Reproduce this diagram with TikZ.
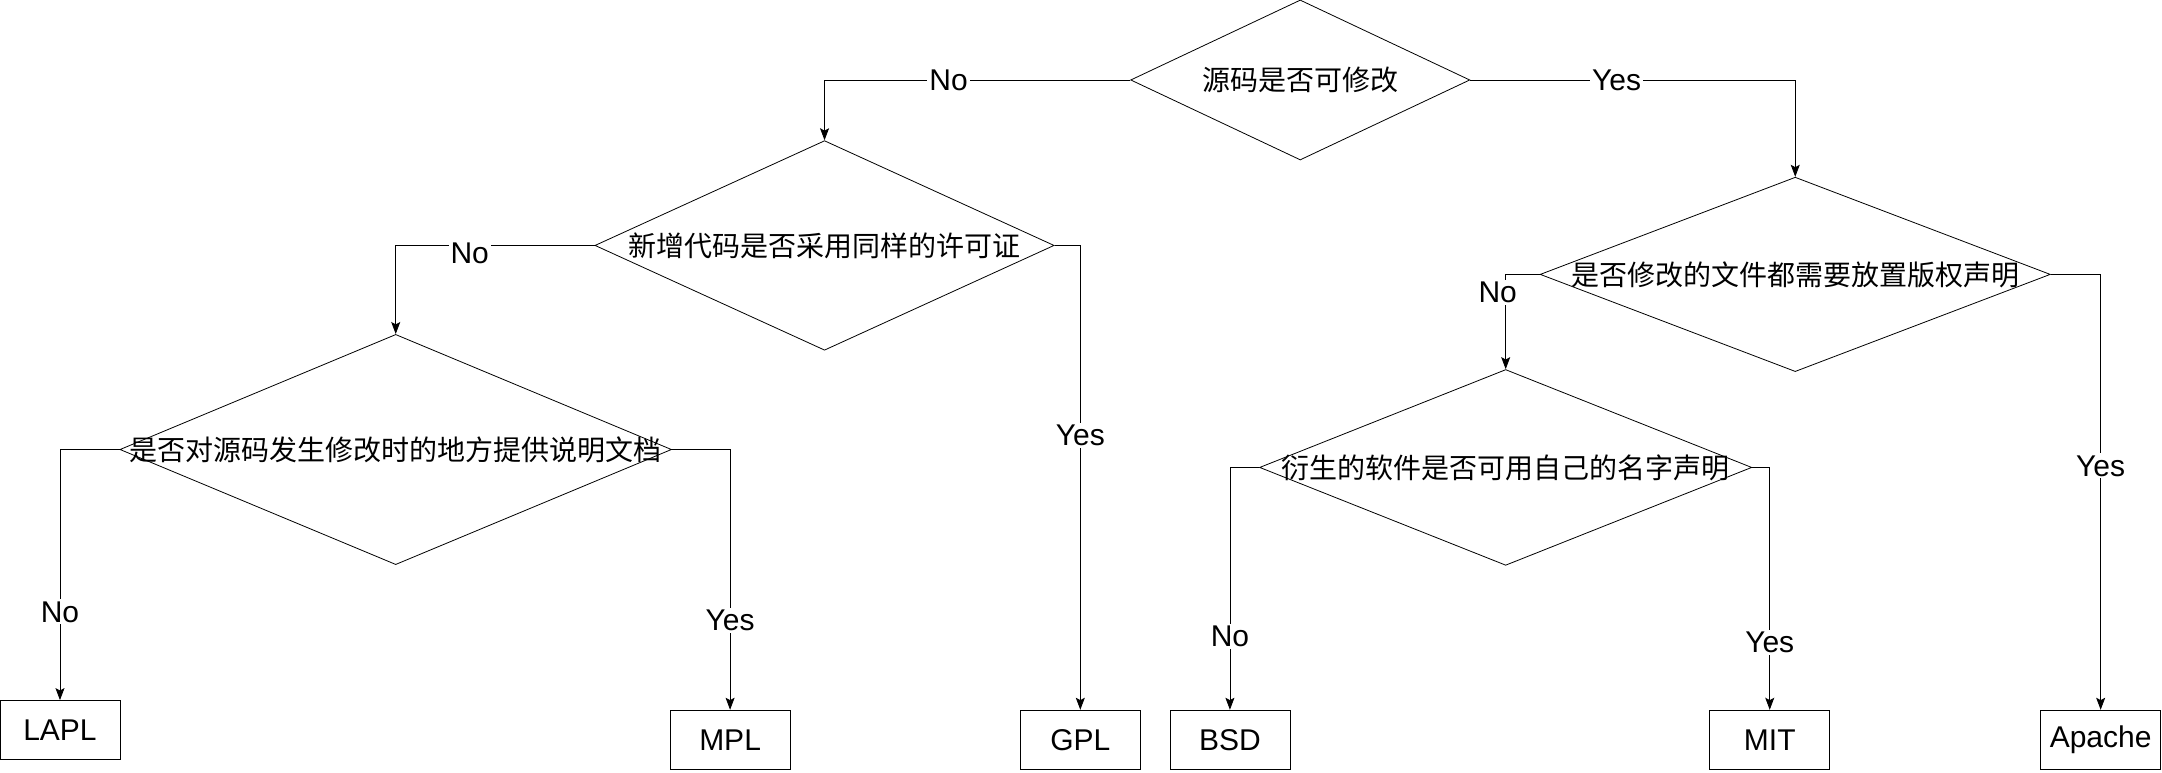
\documentclass[tikz,border=0pt]{standalone}
\usepackage{fontspec}
\setmainfont{Liberation Sans}
\newfontfamily\cjk{Noto Sans CJK SC}
\usetikzlibrary{shapes.geometric}
\usetikzlibrary{arrows.meta}

\begin{document}
\begin{tikzpicture}[x=0.6894pt, y=-0.6894pt, >={Stealth[length=6pt,width=4.5pt,inset=1.2pt]},
  ask/.style = {draw, diamond, inner sep=0pt},
  qtext/.style = {font=\cjk\fontsize{14}{17}\selectfont, inner sep=0pt},
  lic/.style = {draw, minimum width=60pt, minimum height=29.6pt, font=\fontsize{15}{18}\selectfont},
  lbl/.style = {fill=white, inner sep=1pt, font=\fontsize{15}{18}\selectfont}]
\useasboundingbox (0,0) rectangle (1568,560);

\node[ask, minimum width=169.6pt, minimum height=80pt] (q1) at (943,58) {};
\node[qtext] (q1t) at (q1.center) {源码是否可修改};
\node[ask, minimum width=229.6pt, minimum height=104.8pt] (q2) at (598,178) {};
\node[qtext] (q2t) at (q2.center) {新增代码是否采用同样的许可证};
\node[ask, minimum width=255.1pt, minimum height=97.2pt] (q3) at (1302,199) {};
\node[qtext] (q3t) at (q3.center) {是否修改的文件都需要放置版权声明};
\node[ask, minimum width=275.8pt, minimum height=115.1pt] (q4) at (287,326) {};
\node[qtext] (q4t) at (q4.center) {是否对源码发生修改时的地方提供说明文档};
\node[ask, minimum width=246.1pt, minimum height=97.9pt] (q5) at (1092,339) {};
\node[qtext] (q5t) at (q5.center) {衍生的软件是否可用自己的名字声明};

\node[lic] (LAPL) at (43.5,529.5) {LAPL};
\node[lic] (MPL) at (529.5,536.5) {MPL};
\node[lic] (GPL) at (783.5,536.5) {GPL};
\node[lic] (BSD) at (892,536.5) {BSD};
\node[lic] (MIT) at (1283.5,536.5) {MIT};
\node[lic] (Apache) at (1523.5,536.5) {Apache};

\draw[->] (q1.west) -| node[lbl, pos=0.297] (e1) {No} (q2.north);
\draw[->] (q1.east) -| node[lbl, pos=0.225] (e2) {Yes} (q3.north);
\draw[->] (q2.west) -| node[lbl, pos=0.314, yshift=-4pt] (e3) {No} (q4.north);
\draw[->] (q2.east) -| node[lbl, pos=0.705] (e4) {Yes} (GPL.north);
\draw[->] (q4.west) -| node[lbl, pos=0.824] (e5) {No} (LAPL.north);
\draw[->] (q4.east) -| node[lbl, pos=0.828] (e6) {Yes} (MPL.north);
\draw[->] (q3.west) -| node[lbl, pos=0.594, xshift=-4pt] (e7) {No} (q5.north);
\draw[->] (q3.east) -| node[lbl, pos=0.72] (e8) {Yes} (Apache.north);
\draw[->] (q5.west) -| node[lbl, pos=0.849] (e9) {No} (BSD.north);
\draw[->] (q5.east) -| node[lbl, pos=0.861] (e10) {Yes} (MIT.north);

\end{tikzpicture}
\end{document}
